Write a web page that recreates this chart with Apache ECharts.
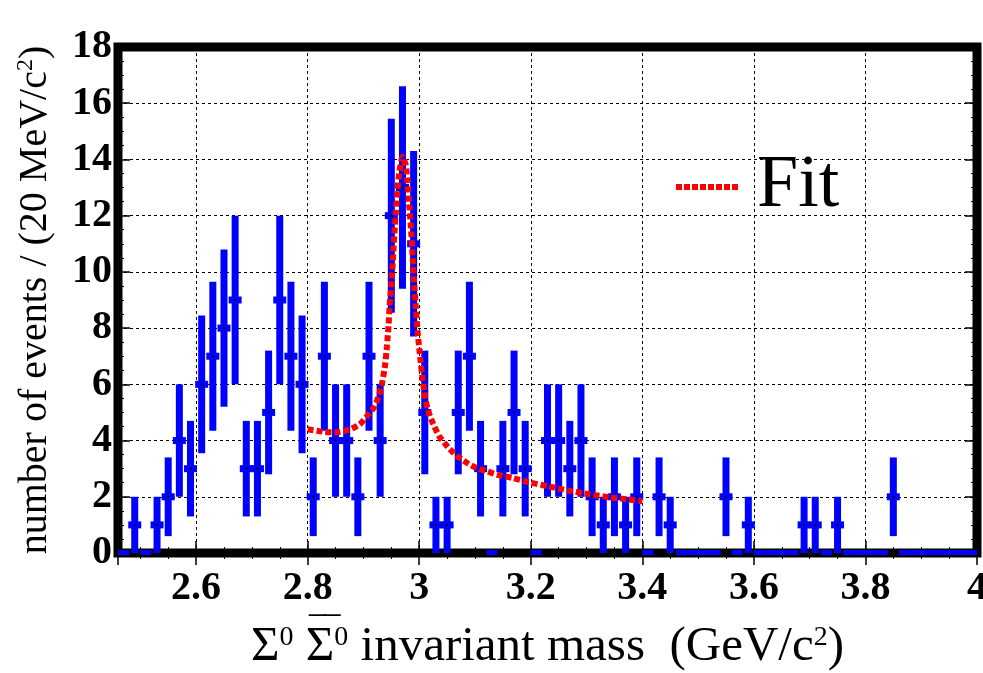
<!DOCTYPE html>
<html>
<head>
<meta charset="utf-8">
<script src="https://cdn.jsdelivr.net/npm/echarts@6/dist/echarts.min.js"></script>
<style>
html,body{margin:0;padding:0;background:#fff;}
#main{width:983px;height:673px;}
</style>
</head>
<body>
<div id="main"></div>
<script>
// bin centres (GeV/c^2), 20 MeV bins
var massBins = [2.47,2.49,2.51,2.53,2.55,2.57,2.59,2.61,2.63,2.65,2.67,2.69,2.71,2.73,2.75,2.77,2.79,2.81,2.83,2.85,
    2.87,2.89,2.91,2.93,2.95,2.97,2.99,3.01,3.03,3.05,3.07,3.09,3.11,3.13,3.15,3.17,3.19,3.21,3.23,3.25,
    3.27,3.29,3.31,3.33,3.35,3.37,3.39,3.41,3.43,3.45,3.47,3.49,3.51,3.53,3.55,3.57,3.59,3.61,3.63,3.65,
    3.67,3.69,3.71,3.73,3.75,3.77,3.79,3.81,3.83,3.85,3.87,3.89,3.91,3.93,3.95,3.97,3.99];
var counts = [0,1,0,1,2,4,3,6,7,8,9,3,3,5,9,7,6,2,7,4,
    4,2,7,4,12,13,11,5,1,1,5,7,3,0,3,5,3,0,4,4,
    3,4,2,1,2,1,2,0,2,1,0,0,0,0,2,0,1,0,0,0,
    0,1,1,0,1,0,0,0,0,2,0,0,0,0,0,0,0];
var errors = [0,1,0,1,1.4,2,1.7,2.45,2.65,2.8,3,1.7,1.7,2.2,3,2.65,2.45,1.4,2.65,2,
    2,1.4,2.65,2,3.45,3.6,3.3,2.2,1,1,2.2,2.65,1.7,0,1.7,2.2,1.7,0,2,2,
    1.7,2,1.4,1,1.4,1,1.4,0,1.4,1,0,0,0,0,1.4,0,1,0,0,0,
    0,1,1,0,1,0,0,0,0,1.4,0,0,0,0,0,0,0];

// fit curve
var fitMass = [2.80,2.83,2.85,2.875,2.893,2.907,2.919,2.928,2.934,2.939,2.942,2.945,2.947,2.951,2.954,2.956,
    2.958,2.961,2.964,2.970,2.976,2.979,2.982,2.986,2.988,2.991,2.994,2.997,3.001,3.005,3.009,3.015,
    3.024,3.036,3.051,3.066,3.084,3.101,3.119,3.143,3.167,3.196,3.232,3.268,3.305,3.341,3.372,3.40];
var fitValues = [4.40,4.31,4.29,4.39,4.57,4.88,5.18,5.61,6.10,6.72,7.34,8.07,8.80,9.79,10.8,11.5,
    12.1,12.9,13.5,14.1,13.8,13.2,12.4,11.3,10.6,9.6,8.7,7.9,7.1,6.36,5.74,5.12,
    4.64,4.15,3.78,3.48,3.23,3.04,2.92,2.77,2.67,2.52,2.37,2.22,2.09,1.98,1.91,1.84];

var yTicks = ['0','2','4','6','8','10','12','14','16','18'];

var serif = '"Liberation Serif", "DejaVu Serif", serif';

// dotted red sample for the legend
var dotIcon = 'path://M0,0h6v6h-6z M8,0h6v6h-6z M16,0h6v6h-6z M24,0h6v6h-6z M32,0h6v6h-6z M40,0h6v6h-6z M48,0h6v6h-6z M56,0h6v6h-6z';

function renderBin(params, api){
    var x = api.value(0), n = api.value(1), e = api.value(2);
    var c = api.coord([x, n]);
    var bw = api.size([0.02, 0])[0];
    var blue = '#0000ff';
    if (n === 0) {
        return {type:'rect', shape:{x:c[0]-bw/2, y:c[1]-3, width:bw, height:5}, style:{fill:blue}};
    }
    var top = api.coord([x, n + e]);
    var bot = api.coord([x, Math.max(0, n - e)]);
    return {
        type:'group',
        children:[
            {type:'rect', shape:{x:c[0]-3.5, y:top[1], width:7, height:bot[1]-top[1]}, style:{fill:blue}},
            {type:'rect', shape:{x:c[0]-6.5, y:c[1]-3.5, width:13, height:7}, style:{fill:blue}},
            {type:'rect', shape:{x:c[0]-1, y:c[1]-1, width:2, height:2}, style:{fill:'#000'}}
        ]
    };
}

function init(){
    var chart = echarts.init(document.getElementById('main'));
    var binData = [];
    for (var i = 0; i < massBins.length; i++) {
        binData.push([massBins[i], counts[i], errors[i]]);
    }
    var fitData = [];
    for (var j = 0; j < fitMass.length; j++) {
        fitData.push([fitMass[j], fitValues[j]]);
    }
    var option = {
        backgroundColor: '#fff',
        animation: false,
        grid: {
            left: 118, right: 6, top: 47, bottom: 120,
            outerBoundsMode: 'none',
            show: true, borderColor: '#000', borderWidth: 9, backgroundColor: 'transparent'
        },
        legend: {
            data: [{name: 'Fit', icon: dotIcon, itemStyle: {color: '#ff0000'}}],
            left: 676, top: 150, padding: 0,
            itemWidth: 62, itemHeight: 6,
            textStyle: {fontFamily: serif, fontSize: 74, color: '#000', padding: [0, 0, 0, 14]}
        },
        // anti-particle bar over the second sigma in the x title
        graphic: [{
            type: 'text', x: 310, y: 616, silent: true,
            style: {text: '\u203E\u203E', font: '44px "Liberation Serif"', fill: '#000', verticalAlign: 'top'}
        }],
        xAxis: [{
            type: 'value', min: 2.46, max: 4.0, splitNumber: 8,
            axisLine: {show: false},
            axisTick: {inside: true, length: 12, lineStyle: {color: '#000', width: 1.5}},
            minorTick: {show: true, splitNumber: 4, length: 6, lineStyle: {color: '#000'}},
            splitLine: {show: true, lineStyle: {color: '#000', width: 1, type: [3, 3]}},
            axisLabel: {
                showMinLabel: false, margin: 16,
                fontFamily: serif, fontWeight: 'bold', fontSize: 40, color: '#000'
            },
            name: '{t|\u03A3}{sup|0} {t|\u03A3}{sup|0} invariant mass  (GeV/c{sup|2})',
            nameLocation: 'middle', nameGap: 70,
            nameTextStyle: {
                fontFamily: serif, fontSize: 49, color: '#000',
                rich: {
                    t: {fontFamily: serif, fontSize: 49, color: '#000'},
                    sup: {fontFamily: serif, fontSize: 28, padding: [0, 0, 20, 0], color: '#000'}
                }
            }
        }, {
            type: 'value', min: 2.46, max: 4.0, splitNumber: 8, position: 'top',
            axisLine: {show: false},
            axisTick: {inside: true, length: 12, lineStyle: {color: '#000', width: 1.5}},
            minorTick: {show: true, splitNumber: 4, length: 6, lineStyle: {color: '#000'}},
            splitLine: {show: false},
            axisLabel: {show: false}
        }],
        yAxis: [{
            type: 'value', min: 0, max: 18, interval: 2,
            axisLine: {show: false},
            axisTick: {inside: true, length: 12, lineStyle: {color: '#000', width: 1.5}},
            minorTick: {show: true, splitNumber: 4, length: 6, lineStyle: {color: '#000'}},
            splitLine: {show: true, lineStyle: {color: '#000', width: 1, type: [3, 3]}},
            axisLabel: {
                margin: 6,
                formatter: function(v){ return yTicks[Math.round(v / 2)]; },
                fontFamily: serif, fontWeight: 'bold', fontSize: 40, color: '#000'
            },
            name: 'number of events / (20 MeV/c{sup|2})',
            nameLocation: 'middle', nameGap: 62,
            nameTextStyle: {
                fontFamily: serif, fontSize: 40, color: '#000',
                rich: {sup: {fontFamily: serif, fontSize: 24, padding: [0, 0, 18, 0], color: '#000'}}
            }
        }, {
            type: 'value', min: 0, max: 18, interval: 2, position: 'right',
            axisLine: {show: false},
            axisTick: {inside: true, length: 12, lineStyle: {color: '#000', width: 1.5}},
            minorTick: {show: true, splitNumber: 4, length: 6, lineStyle: {color: '#000'}},
            splitLine: {show: false},
            axisLabel: {show: false}
        }],
        series: [{
            name: 'data',
            type: 'custom',
            renderItem: renderBin,
            encode: {x: 0, y: 1},
            data: binData,
            z: 3
        }, {
            name: 'Fit',
            type: 'line',
            data: fitData,
            symbol: 'none',
            smooth: 0.2,
            color: '#ff0000',
            lineStyle: {color: '#ff0000', width: 6, type: [6, 3]},
            z: 5
        }]
    };
    chart.setOption(option);
}

init();
</script>
</body>
</html>
